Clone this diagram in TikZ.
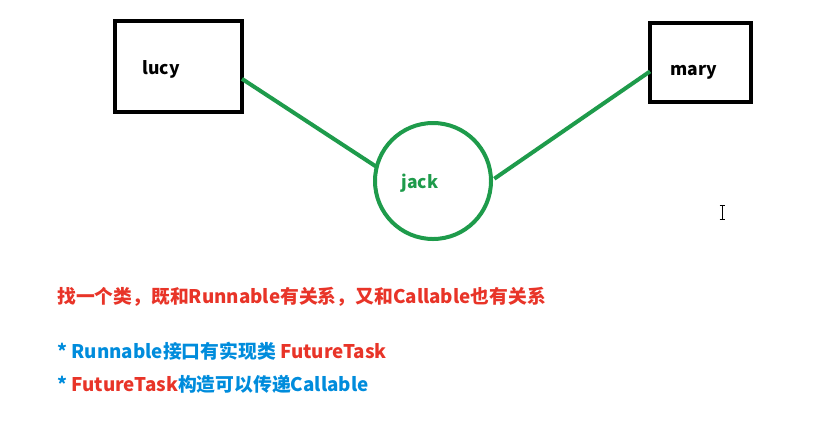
\documentclass[tikz,border=0pt]{standalone}
\usepackage{fontspec}
\setmainfont{Noto Sans CJK SC}
\usepackage{amsmath,tikz}
\definecolor{linegreen}{RGB}{30,155,75}
\definecolor{notered}{RGB}{232,52,40}
\definecolor{noteblue}{RGB}{0,140,220}

\begin{document}
\begin{tikzpicture}[x=1pt,y=-1pt,font=\bfseries,
  box/.style={draw,line width=4pt,minimum width=127pt,outer sep=0pt},
  person/.style={font=\bfseries\fontsize{17.5}{20}\selectfont},
  note/.style={anchor=west,inner sep=0pt,font=\bfseries\fontsize{18.8}{22}\selectfont}]
\useasboundingbox (0,0) rectangle (826,424);
\node[box,minimum width=127pt,minimum height=91pt] (lucy) at (178.5,66.5) {};
\node[box,minimum width=101pt,minimum height=79pt] (mary) at (700.5,62.5) {};
\node[circle,draw=linegreen,line width=4pt,minimum size=116pt,outer sep=0pt] (jack) at (433,181) {};
\node[person] (lucytext) at (161,69) {lucy};
\node[person] (marytext) at (694,72) {mary};
\node[person,text=linegreen] (jacktext) at (420,183) {jack};
\draw[linegreen,line width=4pt] (lucy.-11.6) -- (jack.166.9);
\draw[linegreen,line width=4pt,shorten <=4pt] (jack.east) -- (mary.190);
% text cursor
\draw[line width=1pt] (722,205) -- (722,219) (719.5,205) -- (724.5,205) (719.5,219) -- (724.5,219);
\node[note,text=notered] (ask) at (57,297) {找一个类，既和Runnable有关系，又和Callable也有关系};
\node[note,text=noteblue] (note1) at (57,351) {* Runnable接口有实现类 \textcolor{notered}{FutureTask}};
\node[note,text=noteblue] (note2) at (57,384) {* \textcolor{notered}{FutureTask}构造可以传递Callable};
\end{tikzpicture}
\end{document}
